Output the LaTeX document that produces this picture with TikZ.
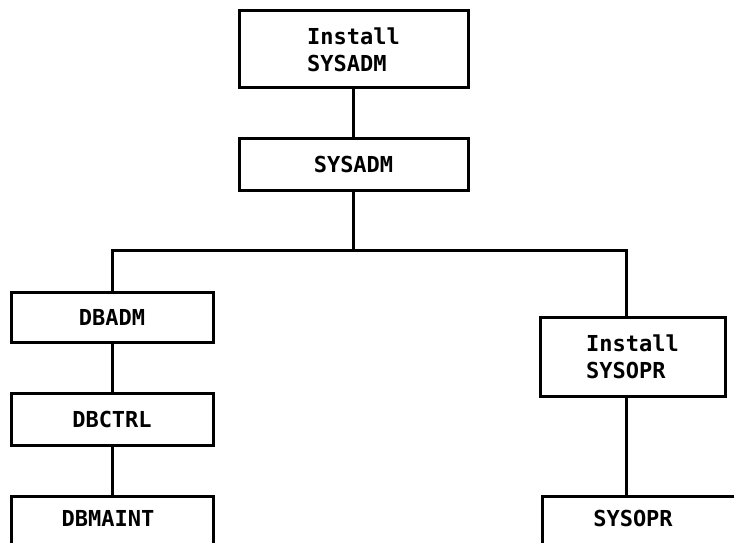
\documentclass[tikz,border=0pt]{standalone}
\usepackage{fontspec}
\newfontfamily\boxfont{DejaVu Sans Mono}
\begin{document}
\begin{tikzpicture}[x=1pt,y=1pt,
  boxtext/.style={font=\boxfont\bfseries\fontsize{22pt}{27pt}\selectfont},
  frame/.style={draw=black, line width=3pt, fill=white, inner sep=0pt, align=left, boxtext},
  lbl/.style={inner sep=0pt, align=left, boxtext},
  link/.style={draw=black, line width=3pt}]
  \useasboundingbox (0,0) rectangle (734,-543);
  \clip (0,0) rectangle (734,-543);

  % top of the hierarchy
  \node[frame, minimum width=229, minimum height=77] (isysadm) at (353.5,-49.5) {Install\\SYSADM};
  \node[frame, minimum width=229, minimum height=52] (sysadm) at (353.5,-164) {SYSADM};

  % database branch
  \node[frame, minimum width=202, minimum height=50] (dbadm) at (112,-317) {DBADM};
  \node[frame, minimum width=202, minimum height=52] (dbctrl) at (112,-419) {DBCTRL};
  \node[frame, minimum width=202, minimum height=56, anchor=north] (dbmaint) at (112,-495) {};
  \node[lbl] (dbmainttxt) at (108,-518) {DBMAINT};

  % operator branch
  \node[frame, minimum width=185, minimum height=79] (isysopr) at (632.5,-356.5) {Install\\SYSOPR};
  \node[frame, minimum width=260, minimum height=56, anchor=north west] (sysoprbox) at (541,-495) {};
  \node[lbl] (sysopr) at (633,-518) {SYSOPR};

  % connectors
  \draw[link] (isysadm.south) -- (sysadm.north);
  \draw[link] (sysadm.south) -- ++(0,-59) coordinate (split);
  \draw[link] (dbadm.north) |- (split) -| ([xshift=-6.5]isysopr.north);
  \draw[link] (dbadm.south) -- (dbctrl.north);
  \draw[link] (dbctrl.south) -- (dbmaint.north);
  \draw[link] ([xshift=-6.5]isysopr.south) -- ([xshift=-6.5]isysopr.south |- sysoprbox.north);
\end{tikzpicture}
\end{document}
